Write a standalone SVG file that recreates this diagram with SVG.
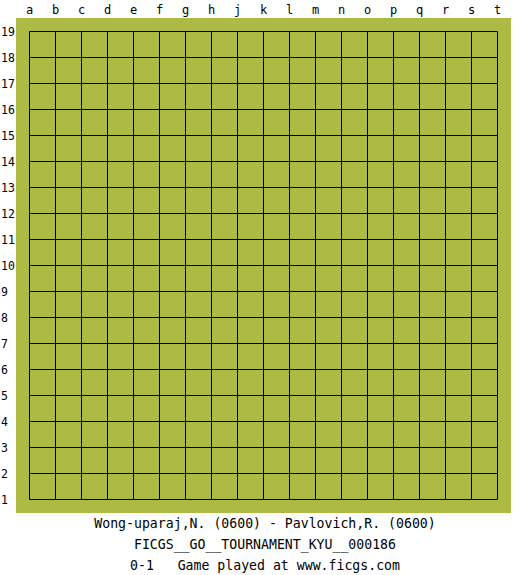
<svg xmlns="http://www.w3.org/2000/svg" width="525" height="575" viewBox="0 0 525 575">
<style>
.lbl{font-family:"DejaVu Sans Mono","Liberation Mono",monospace;font-size:12px;fill:#000}
.col{text-anchor:middle}
.row{font-size:11.5px}
.cap{font-family:"DejaVu Sans Mono","Liberation Mono",monospace;font-size:13.2px;fill:#000;text-anchor:middle}
.grid{stroke:#000;stroke-width:1;fill:none}
</style>
<rect width="525" height="575" fill="#fff"/>
<g id="board">
<rect x="16" y="18" width="495" height="495" fill="#adbb44"/>
<path class="grid" d="M29.5 31.5H497.5M29.5 57.5H497.5M29.5 83.5H497.5M29.5 109.5H497.5M29.5 135.5H497.5M29.5 161.5H497.5M29.5 187.5H497.5M29.5 213.5H497.5M29.5 239.5H497.5M29.5 265.5H497.5M29.5 291.5H497.5M29.5 317.5H497.5M29.5 343.5H497.5M29.5 369.5H497.5M29.5 395.5H497.5M29.5 421.5H497.5M29.5 447.5H497.5M29.5 473.5H497.5M29.5 499.5H497.5M29.5 31.5V499.5M55.5 31.5V499.5M81.5 31.5V499.5M107.5 31.5V499.5M133.5 31.5V499.5M159.5 31.5V499.5M185.5 31.5V499.5M211.5 31.5V499.5M237.5 31.5V499.5M263.5 31.5V499.5M289.5 31.5V499.5M315.5 31.5V499.5M341.5 31.5V499.5M367.5 31.5V499.5M393.5 31.5V499.5M419.5 31.5V499.5M445.5 31.5V499.5M471.5 31.5V499.5M497.5 31.5V499.5"/>
</g>
<g id="columns" class="lbl col">
<text x="29.5" y="14">a</text><text x="55.5" y="14">b</text><text x="81.5" y="14">c</text><text x="107.5" y="14">d</text><text x="133.5" y="14">e</text><text x="159.5" y="14">f</text><text x="185.5" y="14">g</text><text x="211.5" y="14">h</text><text x="237.5" y="14">j</text><text x="263.5" y="14">k</text><text x="289.5" y="14">l</text><text x="315.5" y="14">m</text><text x="341.5" y="14">n</text><text x="367.5" y="14">o</text><text x="393.5" y="14">p</text><text x="419.5" y="14">q</text><text x="445.5" y="14">r</text><text x="471.5" y="14">s</text><text x="497.5" y="14">t</text>
</g>
<g id="rows" class="lbl row">
<text x="1" y="35.5">19</text><text x="1" y="61.5">18</text><text x="1" y="87.5">17</text><text x="1" y="113.5">16</text><text x="1" y="139.5">15</text><text x="1" y="165.5">14</text><text x="1" y="191.5">13</text><text x="1" y="217.5">12</text><text x="1" y="243.5">11</text><text x="1" y="269.5">10</text><text x="1" y="295.5">9</text><text x="1" y="321.5">8</text><text x="1" y="347.5">7</text><text x="1" y="373.5">6</text><text x="1" y="399.5">5</text><text x="1" y="425.5">4</text><text x="1" y="451.5">3</text><text x="1" y="477.5">2</text><text x="1" y="503.5">1</text>
</g>
<g id="caption">
<text class="cap" x="265" y="528" xml:space="preserve">Wong-uparaj,N. (0600) - Pavlovich,R. (0600)</text>
<text class="cap" x="265" y="549">FICGS__GO__TOURNAMENT_KYU__000186</text>
<text class="cap" x="265" y="570" xml:space="preserve">0-1   Game played at www.ficgs.com</text>
</g>
</svg>
